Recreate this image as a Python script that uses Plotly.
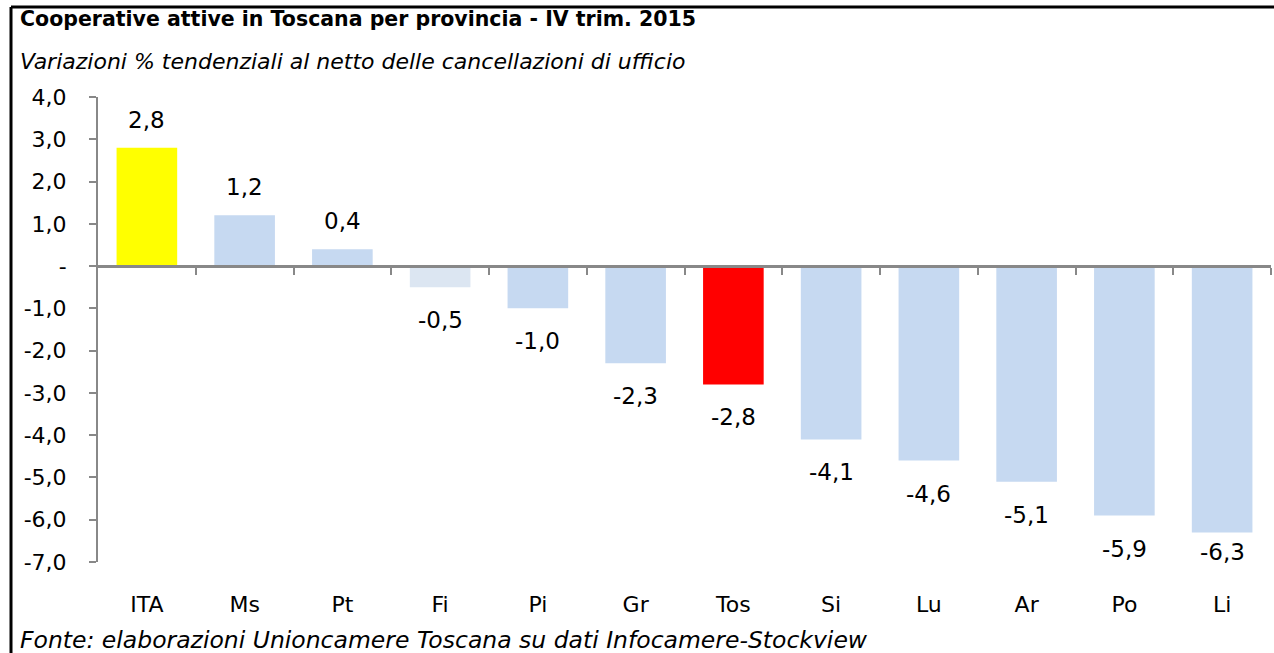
import plotly.graph_objects as go

categories = ["ITA", "Ms", "Pt", "Fi", "Pi", "Gr", "Tos", "Si", "Lu", "Ar", "Po", "Li"]
values = [2.8, 1.2, 0.4, -0.5, -1.0, -2.3, -2.8, -4.1, -4.6, -5.1, -5.9, -6.3]
bar_colors = ["#ffff00", "#c6d9f1", "#c6d9f1", "#dce6f2", "#c6d9f1", "#c6d9f1", "#ff0000",
              "#c6d9f1", "#c6d9f1", "#c6d9f1", "#c6d9f1", "#c6d9f1"]
ytick_vals = [4, 3, 2, 1, 0, -1, -2, -3, -4, -5, -6, -7]
ytick_text = ["4,0", "3,0", "2,0", "1,0", "-", "-1,0", "-2,0", "-3,0", "-4,0", "-5,0", "-6,0", "-7,0"]

title = "<b>Cooperative attive in Toscana per provincia - IV trim. 2015</b>"
subtitle = "<i>Variazioni % tendenziali al netto delle cancellazioni di ufficio</i>"
source = "<i>Fonte: elaborazioni Unioncamere Toscana su dati Infocamere-Stockview</i>"

FONT = "DejaVu Sans"
W, H = 1274, 653
L, R, T, B = 98, 3, 97, 91
pw, ph = W - L - R, H - T - B
ymin, ymax = -7, 4
scale = ph / (ymax - ymin)


def px(x):
    return (x - L) / pw


def py(y):
    return (H - B - y) / ph


labels = [f"{v:.1f}".replace(".", ",") for v in values]
n = len(categories)

fig = go.Figure()
fig.add_trace(go.Bar(
    x=list(range(n)), y=values, marker=dict(color=bar_colors, line=dict(width=0)),
    width=0.62, hoverinfo="skip",
))
fig.add_trace(go.Bar(x=[0], y=[0], xaxis="x2", yaxis="y", showlegend=False,
                     marker=dict(color="rgba(0,0,0,0)"), hoverinfo="skip"))

annotations = []
for i, (v, lab) in enumerate(zip(values, labels)):
    if v >= 0:
        shift = 28
    else:
        shift = -min(33, (v - ymin) * scale - 10)
    annotations.append(dict(x=i, y=v, xref="x", yref="y", text=lab, showarrow=False,
                            yanchor="middle", yshift=shift,
                            font=dict(family=FONT, size=23, color="black")))

annotations += [
    dict(text=title, x=px(18), y=py(19), xref="paper", yref="paper", xanchor="left",
         yanchor="middle", showarrow=False, font=dict(family=FONT, size=20.5, color="black")),
    dict(text=subtitle, x=px(18), y=py(61), xref="paper", yref="paper", xanchor="left",
         yanchor="middle", showarrow=False, font=dict(family=FONT, size=22, color="black")),
    dict(text=source, x=px(18), y=py(640), xref="paper", yref="paper", xanchor="left",
         yanchor="middle", showarrow=False, font=dict(family=FONT, size=23.5, color="black")),
]

fig.update_layout(
    width=W, height=H,
    margin=dict(l=L, r=R, t=T, b=B),
    paper_bgcolor="white", plot_bgcolor="white",
    showlegend=False,
    xaxis=dict(
        range=[-0.5, n - 0.5], tickmode="array", tickvals=list(range(n)), ticktext=categories,
        showline=False, showgrid=False, zeroline=False,
        ticks="outside", ticklen=23, tickcolor="rgba(0,0,0,0)",
        tickfont=dict(family=FONT, size=22, color="black"),
    ),
    xaxis2=dict(
        range=[-0.5, n - 0.5], overlaying="x", anchor="free",
        position=(0 - ymin) / (ymax - ymin), side="bottom",
        tickmode="array", tickvals=[i + 0.5 for i in range(n)],
        showticklabels=False, ticks="outside", ticklen=7, tickwidth=2, tickcolor="#888888",
        showline=True, linecolor="#888888", linewidth=3, showgrid=False, zeroline=False,
    ),
    yaxis=dict(
        range=[ymin, ymax], tickmode="array", tickvals=ytick_vals, ticktext=ytick_text,
        showline=True, linecolor="#888888", linewidth=2, showgrid=False, zeroline=False,
        ticks="outside", ticklen=7, tickwidth=2, tickcolor="#888888",
        ticklabelstandoff=18,
        tickfont=dict(family=FONT, size=22, color="black"),
    ),
    annotations=annotations,
    shapes=[
        dict(type="line", xref="paper", yref="paper", x0=px(11), x1=px(1300), y0=py(7), y1=py(7),
             line=dict(color="black", width=3)),
        dict(type="line", xref="paper", yref="paper", x0=px(11), x1=px(11), y0=py(7), y1=py(700),
             line=dict(color="black", width=3)),
    ],
)

fig.write_html("out.html", config={"displayModeBar": False, "staticPlot": True},
               post_script="document.body.style.margin='0';document.body.style.overflow='hidden';")
